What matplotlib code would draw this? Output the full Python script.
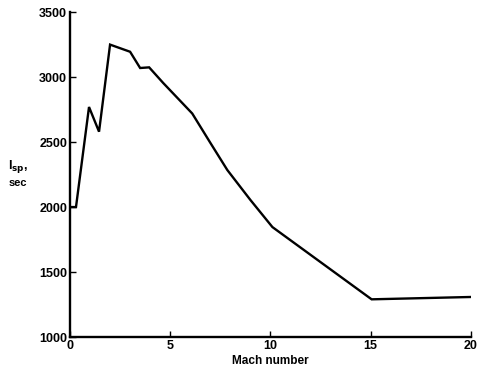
import matplotlib
matplotlib.use("Agg")
import matplotlib.pyplot as plt

mach = [0.0, 0.3, 0.95, 1.45, 2.0, 3.0, 3.5, 3.95, 4.65, 6.1, 7.0, 7.85, 9.0, 10.1, 15.05, 20.0]
isp = [2000, 2000, 2770, 2580, 3250, 3195, 3070, 3075, 2955, 2720, 2495, 2285, 2055, 1846, 1290, 1308]

xticks = [0, 5, 10, 15, 20]
yticks = [1000, 1500, 2000, 2500, 3000, 3500]

plt.rcParams['font.family'] = ['Liberation Sans', 'DejaVu Sans']
plt.rcParams['font.weight'] = 'bold'
plt.rcParams['mathtext.default'] = 'bf'

fig = plt.figure(figsize=(4.78, 3.79), dpi=100)
ax = fig.add_axes([0.1464, 0.1108, 0.8386, 0.8572])
ax.plot(mach, isp, color='black', linewidth=1.7, solid_joinstyle='miter')
ax.set_xlim(0, 20)
ax.set_ylim(1000, 3500)
ax.set_xticks(xticks)
ax.set_yticks(yticks)
ax.tick_params(direction='in', length=4, width=1, labelsize=9, pad=2)
for s in ['top', 'right']:
    ax.spines[s].set_visible(False)
for s in ['left', 'bottom']:
    ax.spines[s].set_linewidth(1.7)
ax.set_xlabel('Mach number', fontsize=8.5, fontweight='bold', labelpad=2)
fig.text(0.017, 0.562, r'I$_{\mathrm{sp}}$,', fontsize=9, ha='left', va='center')
fig.text(0.017, 0.517, 'sec', fontsize=8, ha='left', va='center')
fig.savefig('out.png', dpi=100)
